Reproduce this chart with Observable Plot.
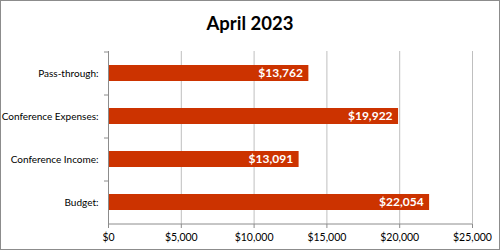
<!DOCTYPE html>
<html>
<head>
<meta charset="utf-8">
<script src="https://cdn.jsdelivr.net/npm/d3@7"></script>
<script src="https://cdn.jsdelivr.net/npm/@observablehq/plot@0.6"></script>
<style>
  html, body { margin: 0; padding: 0; background: #fff; }
  #frame { position: relative; width: 498px; height: 248px; border: 1px solid #8c8c8c; background: #fff; overflow: hidden; }
  #title { position: absolute; left: 0; top: 11px; width: 100%; text-align: center; font-family: Lato, sans-serif; font-weight: bold; font-size: 18.5px; color: #000; }
  #chart { position: absolute; left: 0; top: 0; }
</style>
</head>
<body>
<div id="frame">
  <div id="chart"></div>
  <div id="title">April 2023</div>
</div>
<script>
const categories = ["Pass-through:", "Conference Expenses:", "Conference Income:", "Budget:"];
const values = [13762, 19922, 13091, 22054];
const xTicks = [0, 5000, 10000, 15000, 20000, 25000];

const data = categories.map((c, i) => ({category: c, value: values[i]}));
const fmt = d3.format("$,.0f");
const fontFamily = "Lato, sans-serif";
const axisColor = "#8c8c8c";
const gridColor = "#bfbfbf";
const barColor = "#cc3300";

const chart = Plot.plot({
  width: 498,
  height: 248,
  marginLeft: 107,
  marginRight: 27,
  marginTop: 50,
  marginBottom: 25,
  style: {fontFamily, fontSize: "11px", background: "transparent", color: "#000"},
  x: {domain: [0, 25000], axis: null, label: null},
  y: {domain: categories, paddingInner: 0.62, paddingOuter: 0.31, axis: null, label: null},
  marks: [
    // vertical gridlines
    Plot.ruleX(xTicks.slice(1), {stroke: gridColor, strokeWidth: 1}),
    // bars
    Plot.barX(data, {x: "value", y: "category", fill: barColor}),
    // value labels
    Plot.text(data, {x: "value", y: "category", text: d => fmt(d.value), textAnchor: "end", dx: -6, fill: "#fff", fontWeight: "bold", fontSize: 12}),
    // left axis line
    Plot.ruleX([0], {stroke: axisColor}),
    // left axis category boundary ticks
    Plot.ruleY(categories, {y: d => d, x1: 0, x2: 0, insetLeft: -4, dy: -21.5, stroke: axisColor}),
    // category labels
    Plot.axisY(categories, {tickSize: 0, tickPadding: 10, label: null, fill: "#000", fontSize: 10}),
    // bottom axis
    Plot.axisX(xTicks, {tickFormat: fmt, tickSize: 4, tickPadding: 5, label: null, stroke: axisColor, fill: "#000", fontSize: 10.5}),
    Plot.ruleY([categories[categories.length - 1]], {x1: 0, x2: 25000, dy: 21.5, stroke: axisColor})
  ]
});

document.getElementById("chart").appendChild(chart);
</script>
</body>
</html>
